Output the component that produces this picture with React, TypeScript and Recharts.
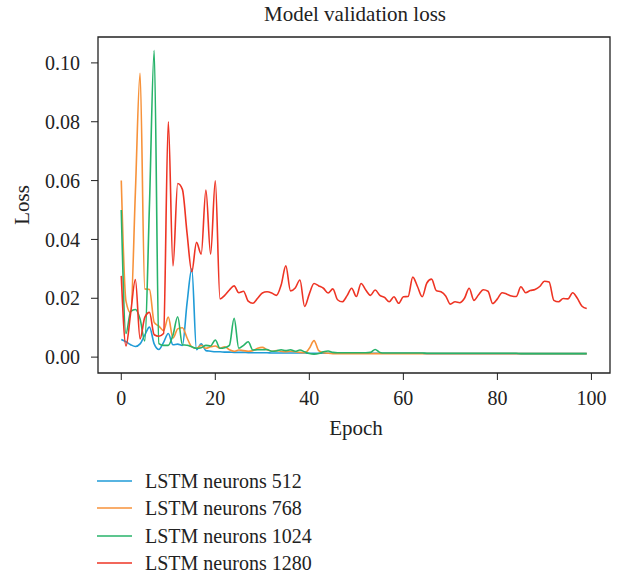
import { LineChart, Line, XAxis, YAxis, ReferenceArea } from "recharts";

const epochs = Array.from({ length: 100 }, (_, i) => i);

const neurons512 = [
  0.006, 0.0052, 0.0042, 0.0036, 0.0045, 0.0075, 0.0102, 0.0045, 0.0026, 0.005,
  0.008, 0.0042, 0.0044, 0.004, 0.0185, 0.03, 0.0025, 0.0045, 0.0022, 0.002,
  0.0018, 0.0018, 0.0017, 0.0017, 0.0016, 0.0016, 0.0016, 0.0015, 0.0015, 0.0015,
  0.0015, 0.0015, 0.0014, 0.0014, 0.0014, 0.0014, 0.0014, 0.0014, 0.0014, 0.0014,
  0.0013, 0.0013, 0.0013, 0.0013, 0.0013, 0.0013, 0.0013, 0.0013, 0.0013, 0.0013,
  0.0013, 0.0013, 0.0013, 0.0013, 0.0013, 0.0013, 0.0013, 0.0013, 0.0013, 0.0013,
  0.0013, 0.0013, 0.0013, 0.0013, 0.0013, 0.0012, 0.0012, 0.0012, 0.0012, 0.0012,
  0.0012, 0.0012, 0.0012, 0.0012, 0.0012, 0.0012, 0.0012, 0.0012, 0.0012, 0.0012,
  0.0012, 0.0012, 0.0012, 0.0012, 0.0012, 0.0012, 0.0012, 0.0012, 0.0012, 0.0012,
  0.0012, 0.0012, 0.0012, 0.0012, 0.0012, 0.0012, 0.0012, 0.0012, 0.0012, 0.0012,
];

const neurons768 = [
  0.06, 0.019, 0.015, 0.056, 0.0965, 0.0232, 0.023, 0.0118, 0.0105, 0.009,
  0.0136, 0.0065, 0.0096, 0.01, 0.0065, 0.0035, 0.003, 0.004, 0.003, 0.0035,
  0.0038, 0.003, 0.0035, 0.0025, 0.002, 0.0024, 0.0022, 0.002, 0.0022, 0.003,
  0.0033, 0.0025, 0.002, 0.0022, 0.002, 0.0018, 0.002, 0.0018, 0.0016, 0.0015,
  0.003, 0.0056, 0.0022, 0.0015, 0.0013, 0.0012, 0.0012, 0.0012, 0.0012, 0.0012,
  0.0012, 0.0012, 0.0012, 0.0012, 0.0012, 0.0012, 0.0012, 0.0012, 0.0012, 0.0012,
  0.0012, 0.0012, 0.0012, 0.0012, 0.0012, 0.0012, 0.0012, 0.0012, 0.0012, 0.0012,
  0.0012, 0.0012, 0.0012, 0.0012, 0.0012, 0.0012, 0.0012, 0.0012, 0.0012, 0.0012,
  0.0012, 0.0012, 0.0012, 0.0012, 0.0012, 0.0012, 0.0012, 0.0012, 0.0012, 0.0012,
  0.0012, 0.0012, 0.0012, 0.0012, 0.0012, 0.0012, 0.0012, 0.0012, 0.0012, 0.0012,
];

const neurons1024 = [
  0.05, 0.008, 0.0155, 0.0162, 0.013, 0.0055, 0.052, 0.1042, 0.0046, 0.004,
  0.004, 0.0075, 0.0137, 0.0042, 0.004, 0.0035, 0.003, 0.0032, 0.004, 0.0038,
  0.0058, 0.003, 0.0032, 0.004, 0.0132, 0.003, 0.004, 0.0052, 0.0024, 0.0025,
  0.0025, 0.0026, 0.002, 0.0021, 0.0025, 0.0022, 0.0025, 0.002, 0.0024, 0.0018,
  0.0012, 0.001, 0.0012, 0.0018, 0.0021, 0.0016, 0.0015, 0.0015, 0.0015, 0.0015,
  0.0015, 0.0015, 0.0015, 0.0016, 0.0026, 0.0016, 0.0014, 0.0014, 0.0014, 0.0014,
  0.0014, 0.0014, 0.0014, 0.0014, 0.0014, 0.0013, 0.0013, 0.0013, 0.0013, 0.0013,
  0.0013, 0.0013, 0.0013, 0.0013, 0.0013, 0.0013, 0.0013, 0.0013, 0.0013, 0.0013,
  0.0013, 0.0013, 0.0013, 0.0013, 0.0013, 0.0012, 0.0012, 0.0012, 0.0012, 0.0012,
  0.0012, 0.0012, 0.0012, 0.0012, 0.0012, 0.0012, 0.0012, 0.0012, 0.0012, 0.0012,
];

const neurons1280 = [
  0.0276, 0.0038, 0.015, 0.0264, 0.0062, 0.0135, 0.0152, 0.0076, 0.0071, 0.008,
  0.08, 0.031, 0.059, 0.057, 0.042, 0.029, 0.039, 0.035, 0.0568, 0.035,
  0.0599, 0.0198, 0.021, 0.0228, 0.0242, 0.0219, 0.0224, 0.019, 0.0183, 0.02,
  0.0218, 0.0222, 0.0218, 0.021, 0.0245, 0.031, 0.0225, 0.0235, 0.0262, 0.0172,
  0.0215, 0.025, 0.0242, 0.0234, 0.0218, 0.0232, 0.0195, 0.0188, 0.0208, 0.0234,
  0.0206, 0.025, 0.0228, 0.021, 0.0228, 0.021, 0.0203, 0.0188, 0.0205, 0.0183,
  0.0205, 0.0206, 0.0272, 0.024, 0.0205, 0.0252, 0.0265, 0.0226, 0.0222, 0.0208,
  0.018, 0.0188, 0.0185, 0.02, 0.0234, 0.0193, 0.0212, 0.0229, 0.0224, 0.0182,
  0.0198, 0.0219, 0.0214, 0.0208, 0.0206, 0.0239, 0.0219, 0.0226, 0.023, 0.024,
  0.0258, 0.0255, 0.0193, 0.0188, 0.0199, 0.0198, 0.0219, 0.02, 0.0173, 0.0165,
];

const xTicks = [0, 20, 40, 60, 80, 100];
const yTicks = [0, 0.02, 0.04, 0.06, 0.08, 0.1];

const series = [
  { key: "n512", name: "LSTM neurons 512", color: "#1f9bd7", values: neurons512 },
  { key: "n768", name: "LSTM neurons 768", color: "#f7923a", values: neurons768 },
  { key: "n1024", name: "LSTM neurons 1024", color: "#27b36a", values: neurons1024 },
  { key: "n1280", name: "LSTM neurons 1280", color: "#ee3424", values: neurons1280 },
];

const data = epochs.map((e, i) => {
  const row: Record<string, number> = { epoch: e };
  series.forEach((s) => (row[s.key] = s.values[i]));
  return row;
});

const FONT = '"Liberation Serif", "DejaVu Serif", serif';
const INK = "#222";
const X_DOMAIN: [number, number] = [-4.95, 103.95];
const Y_DOMAIN: [number, number] = [-0.0054, 0.1088];

export default function App() {
  return (
    <div style={{ position: "absolute", left: 0, top: 0, width: 622, height: 578, background: "#fff" }}>
      <LineChart
        width={622}
        height={578}
        data={data}
        margin={{ top: 37, right: 12, bottom: 165, left: 0 }}
      >
        <XAxis
          dataKey="epoch"
          type="number"
          domain={X_DOMAIN}
          ticks={xTicks}
          allowDataOverflow
          height={40}
          axisLine={false}
          tickLine={{ stroke: INK }}
          tickSize={7}
          tickMargin={11}
          tick={{ fontFamily: FONT, fontSize: 20, fill: INK }}
        />
        <YAxis
          type="number"
          domain={Y_DOMAIN}
          ticks={yTicks}
          allowDataOverflow
          width={98}
          axisLine={false}
          tickLine={{ stroke: INK }}
          tickSize={7}
          tickMargin={11}
          tickFormatter={(v: number) => v.toFixed(2)}
          tick={{ fontFamily: FONT, fontSize: 20, fill: INK }}
        />
        {series.map((s) => (
          <Line
            key={s.key}
            type="monotone"
            dataKey={s.key}
            name={s.name}
            stroke={s.color}
            strokeWidth={1.6}
            dot={false}
            isAnimationActive={false}
          />
        ))}
        <ReferenceArea
          x1={X_DOMAIN[0]}
          x2={X_DOMAIN[1]}
          y1={Y_DOMAIN[0]}
          y2={Y_DOMAIN[1]}
          fill="none"
          fillOpacity={0}
          stroke={INK}
          strokeWidth={1.3}
          ifOverflow="visible"
        />
      </LineChart>
      <svg
        width={622}
        height={578}
        style={{ position: "absolute", left: 0, top: 0, pointerEvents: "none" }}
        fontFamily={FONT}
        fill={INK}
      >
        <text x={355} y={21} textAnchor="middle" fontSize={21}>
          Model validation loss
        </text>
        <text x={356} y={435} textAnchor="middle" fontSize={21}>
          Epoch
        </text>
        <text x={29} y={205} textAnchor="middle" fontSize={21} transform="rotate(-90 29 205)">
          Loss
        </text>
        {series.map((s, i) => {
          const y = [481, 508, 536, 563][i];
          return (
            <g key={s.key}>
              <line x1={97} x2={132} y1={y} y2={y} stroke={s.color} strokeWidth={1.6} />
              <text x={145} y={y + 7} fontSize={20}>
                {s.name}
              </text>
            </g>
          );
        })}
      </svg>
    </div>
  );
}
